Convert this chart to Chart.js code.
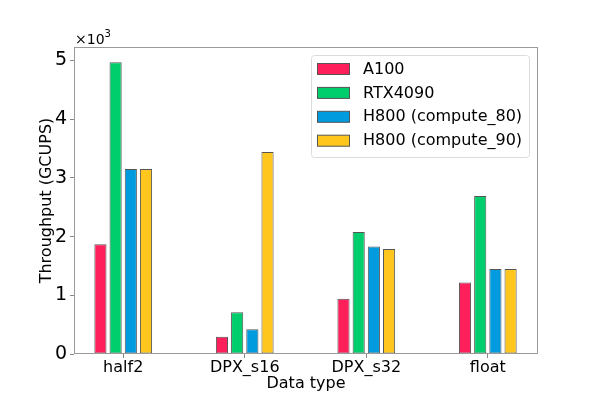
<!DOCTYPE html>
<html>
<head>
<meta charset="utf-8">
<script src="https://cdn.jsdelivr.net/npm/chart.js@4"></script>
<style>
  html, body { margin: 0; padding: 0; background: #fff; }
  #wrap { width: 598px; height: 399px; }
</style>
</head>
<body>
<div id="wrap"><canvas id="chart" width="598" height="399"></canvas></div>
<script>
// Data (GCUPS)
const categories = ["half2", "DPX_s16", "DPX_s32", "float"];
const seriesNames = ["A100", "RTX4090", "H800 (compute_80)", "H800 (compute_90)"];
const a100 = [1870, 295, 940, 1220];
const rtx4090 = [4970, 710, 2080, 2690];
const h800c80 = [3150, 420, 1830, 1450];
const h800c90 = [3150, 3440, 1790, 1450];
const yTicks = [0, 1000, 2000, 3000, 4000, 5000];

const colors = ["#FF1F5B", "#00CD6C", "#009ADE", "#FFC61E"];
const FONT = "'DejaVu Sans', sans-serif";

function toPoints(values) {
  return values.map((v, i) => ({ x: i, y: v }));
}

const seriesValues = [a100, rtx4090, h800c80, h800c90];
const datasets = seriesNames.map((name, i) => ({
  label: name,
  data: toPoints(seriesValues[i]),
  backgroundColor: colors[i],
  borderColor: "#555555",
  borderWidth: 1,
  borderSkipped: false,
  categoryPercentage: 0.5,
  barPercentage: 0.8,
}));

// Frame, exponent label and inside legend
const decorations = {
  id: "decorations",
  afterDraw(chart) {
    const { ctx, chartArea: a } = chart;
    ctx.save();
    ctx.strokeStyle = "#9a9a9a";
    ctx.lineWidth = 1;
    ctx.strokeRect(a.left + 0.5, a.top + 0.5, a.right - a.left - 1, a.bottom - a.top - 1);

    // x10^3 multiplier
    ctx.fillStyle = "#000";
    ctx.textBaseline = "alphabetic";
    ctx.font = "14px " + FONT;
    ctx.fillText("\u00d710", a.left + 1, a.top - 3);
    const w = ctx.measureText("\u00d710").width;
    ctx.font = "10px " + FONT;
    ctx.fillText("3", a.left + 1 + w, a.top - 10);

    // legend
    const lx = 311, ly = 55, lw = 218, lh = 102;
    ctx.beginPath();
    ctx.roundRect(lx + 0.5, ly + 0.5, lw, lh, 3);
    ctx.fillStyle = "rgba(255,255,255,0.8)";
    ctx.fill();
    ctx.strokeStyle = "#dcdcdc";
    ctx.stroke();
    ctx.font = "16px " + FONT;
    ctx.textBaseline = "middle";
    seriesNames.forEach((name, i) => {
      const cy = 69 + i * 23.9;
      ctx.fillStyle = colors[i];
      ctx.fillRect(317.5, cy - 5.5, 32, 11);
      ctx.strokeStyle = "#555555";
      ctx.strokeRect(317.5, cy - 5.5, 32, 11);
      ctx.fillStyle = "#000";
      ctx.fillText(name, 363, cy + 0.5);
    });
    ctx.restore();
  }
};

new Chart(document.getElementById("chart"), {
  type: "bar",
  data: { datasets },
  options: {
    responsive: false,
    animation: false,
    layout: { padding: { top: 47, right: 60, left: 0, bottom: 0 } },
    plugins: {
      legend: { display: false },
      tooltip: { enabled: false },
    },
    scales: {
      x: {
        type: "linear",
        min: -0.405,
        max: 3.413,
        offset: false,
        grid: { display: true, drawOnChartArea: false, offset: false, color: "#888", tickLength: 4 },
        border: { display: false },
        afterBuildTicks: (scale) => { scale.ticks = categories.map((c, i) => ({ value: i })); },
        afterFit: (scale) => { scale.height = 45; },
        ticks: {
          color: "#000",
          font: { family: FONT, size: 16 },
          padding: 0,
          maxRotation: 0,
          callback: (v) => categories[v],
        },
        title: {
          display: true,
          text: "Data type",
          color: "#000",
          font: { family: FONT, size: 16 },
          padding: { top: 0, bottom: 6 },
        },
      },
      y: {
        min: 0,
        max: 5230,
        grid: { display: true, drawOnChartArea: false, color: "#888", tickLength: 4 },
        border: { display: false },
        afterBuildTicks: (scale) => { scale.ticks = yTicks.map(v => ({ value: v })); },
        afterFit: (scale) => { scale.width = 74; },
        ticks: {
          color: "#000",
          font: { family: FONT, size: 19 },
          padding: 3,
          callback: (v) => String(v / 1000),
        },
        title: {
          display: true,
          text: "Throughput (GCUPS)",
          color: "#000",
          font: { family: FONT, size: 16 },
          padding: { top: 37, bottom: 0 },
        },
      },
    },
  },
  plugins: [decorations],
});
</script>
</body>
</html>
